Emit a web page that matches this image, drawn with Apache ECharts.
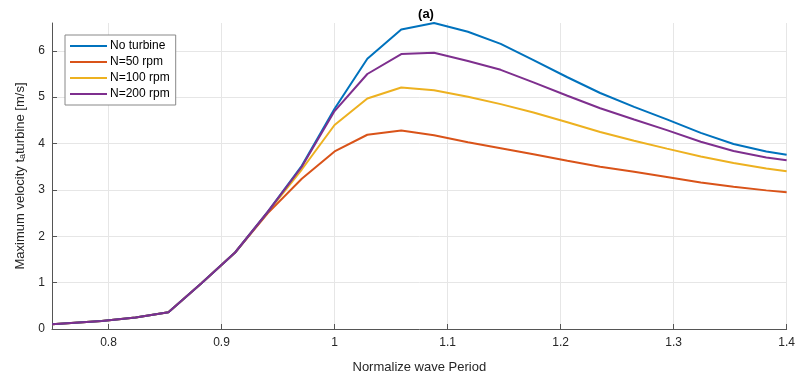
<!DOCTYPE html>
<html>
<head>
<meta charset="utf-8">
<script src="https://cdn.jsdelivr.net/npm/echarts@6/dist/echarts.min.js"></script>
<style>
  html, body { margin: 0; padding: 0; background: #fff; }
  #chart { width: 798px; height: 379px; }
</style>
</head>
<body>
<div id="chart"></div>
<script>
// normalized wave period (x)
const period = [0.75, 0.794, 0.824, 0.853, 0.882, 0.912, 0.941, 0.971, 1.0, 1.029, 1.059, 1.088,
  1.118, 1.147, 1.176, 1.206, 1.235, 1.265, 1.294, 1.324, 1.353, 1.382, 1.4];

// max velocity at turbine [m/s]
const noTurbine = [0.10, 0.17, 0.25, 0.36, 0.98, 1.65, 2.53, 3.52, 4.75, 5.83, 6.46, 6.60,
  6.41, 6.15, 5.80, 5.43, 5.09, 4.79, 4.52, 4.23, 3.99, 3.83, 3.76];
const n50 = [0.10, 0.17, 0.25, 0.36, 0.98, 1.65, 2.50, 3.24, 3.83, 4.19, 4.28, 4.18,
  4.03, 3.90, 3.77, 3.63, 3.50, 3.39, 3.28, 3.16, 3.07, 2.99, 2.95];
const n100 = [0.10, 0.17, 0.25, 0.36, 0.98, 1.65, 2.52, 3.44, 4.40, 4.97, 5.21, 5.15,
  5.01, 4.85, 4.67, 4.46, 4.25, 4.06, 3.89, 3.72, 3.58, 3.46, 3.40];
const n200 = [0.10, 0.17, 0.25, 0.36, 0.98, 1.65, 2.53, 3.50, 4.70, 5.50, 5.93, 5.96,
  5.78, 5.59, 5.32, 5.03, 4.76, 4.52, 4.29, 4.04, 3.84, 3.70, 3.64];

const seriesNames = ["No turbine", "N=50 rpm", "N=100 rpm", "N=200 rpm"];
const seriesValues = [noTurbine, n50, n100, n200];
const colors = ["#0072BD", "#D95319", "#EDB120", "#7E2F8E"];
const xTicks = [0.8, 0.9, 1.0, 1.1, 1.2, 1.3, 1.4];
const yTicks = [0, 1, 2, 3, 4, 5, 6];

const font = "Liberation Sans, Arial, sans-serif";
const textColor = "#262626";
const axisColor = "#555";
const gridColor = "#e6e6e6";

const chart = echarts.init(document.getElementById("chart"), null, { renderer: "canvas" });

chart.setOption({
  backgroundColor: "#fff",
  animation: false,
  color: colors,
  title: {
    text: "(a)",
    left: 421,
    top: 3,
    textAlign: "center",
    textStyle: { fontFamily: font, fontSize: 13, fontWeight: "bold", color: "#000" },
  },
  grid: { left: 52, right: 6, top: 23, bottom: 45 },
  legend: {
    orient: "vertical",
    left: 65,
    top: 35,
    padding: [5, 6, 5, 4],
    itemWidth: 37,
    itemHeight: 12,
    itemGap: 4,
    backgroundColor: "#fff",
    borderColor: "#888",
    borderWidth: 1,
    borderRadius: 0,
    itemStyle: { opacity: 0 },
    textStyle: { fontFamily: font, fontSize: 12, color: "#000", padding: [0, 0, 0, -2] },
    data: seriesNames,
  },
  xAxis: {
    type: "value",
    min: 0.75,
    max: 1.4,
    name: "Normalize wave Period",
    nameLocation: "middle",
    nameGap: 32,
    nameTextStyle: { fontFamily: font, fontSize: 13, color: textColor },
    axisLine: { onZero: false, lineStyle: { color: axisColor, width: 1 } },
    axisTick: { inside: true, length: 5, customValues: xTicks, lineStyle: { color: axisColor } },
    axisLabel: {
      customValues: xTicks,
      margin: 8,
      fontFamily: font,
      fontSize: 12,
      color: textColor,
      formatter: (v) => (Math.abs(v - 1) < 1e-9 ? "1" : String(+v.toFixed(2))),
    },
    splitLine: { show: true, lineStyle: { color: gridColor, width: 1 } },
  },
  yAxis: {
    type: "value",
    min: 0,
    max: 6.6,
    name: "Maximum velocity t{s|a}turbine [m/s]",
    nameLocation: "middle",
    nameGap: 24,
    nameRotate: 90,
    nameTextStyle: {
      fontFamily: font,
      fontSize: 13,
      color: textColor,
      rich: {
        s: { fontFamily: font, fontSize: 9, color: textColor, verticalAlign: "bottom", padding: [6, 0, 0, 0] },
      },
    },
    axisLine: { show: true, lineStyle: { color: axisColor, width: 1 } },
    axisTick: { show: true, inside: true, length: 5, customValues: yTicks, lineStyle: { color: axisColor } },
    axisLabel: { customValues: yTicks, margin: 7, fontFamily: font, fontSize: 12, color: textColor },
    splitLine: { show: true, lineStyle: { color: gridColor, width: 1 } },
  },
  series: seriesNames.map((name, i) => ({
    name,
    type: "line",
    symbol: "none",
    lineStyle: { width: 2, color: colors[i] },
    data: period.map((x, j) => [x, seriesValues[i][j]]),
    z: i === 3 ? 5 : 4 - i,
  })),
});
</script>
</body>
</html>
